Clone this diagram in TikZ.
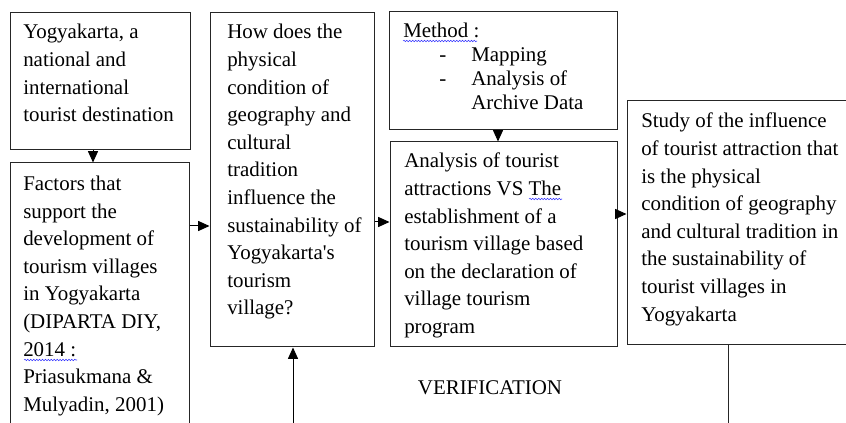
\documentclass[tikz,border=0pt]{standalone}
\usepackage{fontspec}
\setmainfont{Liberation Serif}
\usetikzlibrary{arrows.meta,fit,decorations.pathmorphing}
\newcommand\tl[1]{\begin{tabular}[t]{@{}l@{}}#1\end{tabular}}
\tikzset{
  box/.style={draw=black!85, line width=0.75pt, inner sep=0pt, fill=none},
  txt/.style={anchor=base west, inner sep=0pt, font=\fontsize{15.7}{20.7}\selectfont},
  mtxt/.style={anchor=base west, inner sep=0pt, font=\fontsize{15.7}{18}\selectfont},
  arr/.style={draw=black, line width=0.75pt, -{Triangle[length=8.5pt,width=7.5pt]}},
  ln/.style={draw=black!85, line width=0.75pt},
  squig/.style={draw=blue!80!white, line width=0.4pt, decorate, decoration={snake, segment length=2.2pt, amplitude=0.55pt}}
}
\begin{document}
\begin{tikzpicture}[x=0.75pt,y=-0.75pt]
\useasboundingbox (0,0) rectangle (846,423);
\fill[white] (0,0) rectangle (846,423);
\clip (0,0) rectangle (846,423);
% boxes
\node[box, fit={(10,13) (190,150)}] (b1) {};
\node[box, fit={(10,163) (189,440)}] (b2) {};
\node[box, fit={(210,13) (374,347)}] (b3) {};
\node[box, fit={(389,12) (617,130)}] (bm) {};
\node[box, fit={(390,142) (617,347)}] (ba) {};
\node[box, fit={(627,101) (870,345)}] (bs) {};
% texts
\node[txt] (t1) at (23,39) {\tl{Yogyakarta, a\\national and\\international\\tourist destination}};
\node[txt] (t2) at (23,190.5) {\tl{Factors that\\support the\\development of\\tourism villages\\in Yogyakarta\\(DIPARTA DIY,\\2014 :\\Priasukmana \&\\Mulyadin, 2001)}};
\node[txt] (t3) at (227,39) {\tl{How does the\\physical\\condition of\\geography and\\cultural\\tradition\\influence the\\sustainability of\\Yogyakarta\textquotesingle s\\tourism\\village?}};
\node[mtxt] (tm) at (403,38) {\tl{Method :\\\hspace*{27pt}\makebox[24pt][l]{-}Mapping\\\hspace*{27pt}\makebox[24pt][l]{-}Analysis of\\\hspace*{51pt}Archive Data}};
\node[txt] (ta) at (404,168) {\tl{Analysis of tourist\\attractions VS The\\establishment of a\\tourism village based\\on the declaration of\\village tourism\\program}};
\node[txt] (ts) at (641,128) {\tl{Study of the influence\\of tourist attraction that\\is the physical\\condition of geography\\and cultural tradition in\\the sustainability of\\tourist villages in\\Yogyakarta}};
\node[txt, anchor=base] (ver) at (490,395) {VERIFICATION};
% spell-check squiggles
\draw[squig] (24,360) -- (77,360);
\draw[squig] (403,41) -- (477,41);
\draw[squig] (529,199) -- (562,199);
% connectors
\draw[arr] (b1.south -| 93,0) -- (b2.north -| 93,0);
\draw[arr] (b2.east |- 0,226) -- (b3.west |- 0,226);
\draw[arr] (b3.east |- 0,222) -- (ba.west |- 0,222);
\draw[arr] (bm.south -| 498,0) -- (ba.north -| 498,0);
\draw[arr] (ba.east |- 0,214) -- (bs.west |- 0,214);
\coordinate (v1) at (293,430);
\draw[arr] (v1) -- (b3.south -| v1);
\coordinate (v2) at (728,430);
\draw[ln] (bs.south -| v2) -- (v2);
\end{tikzpicture}
\end{document}
